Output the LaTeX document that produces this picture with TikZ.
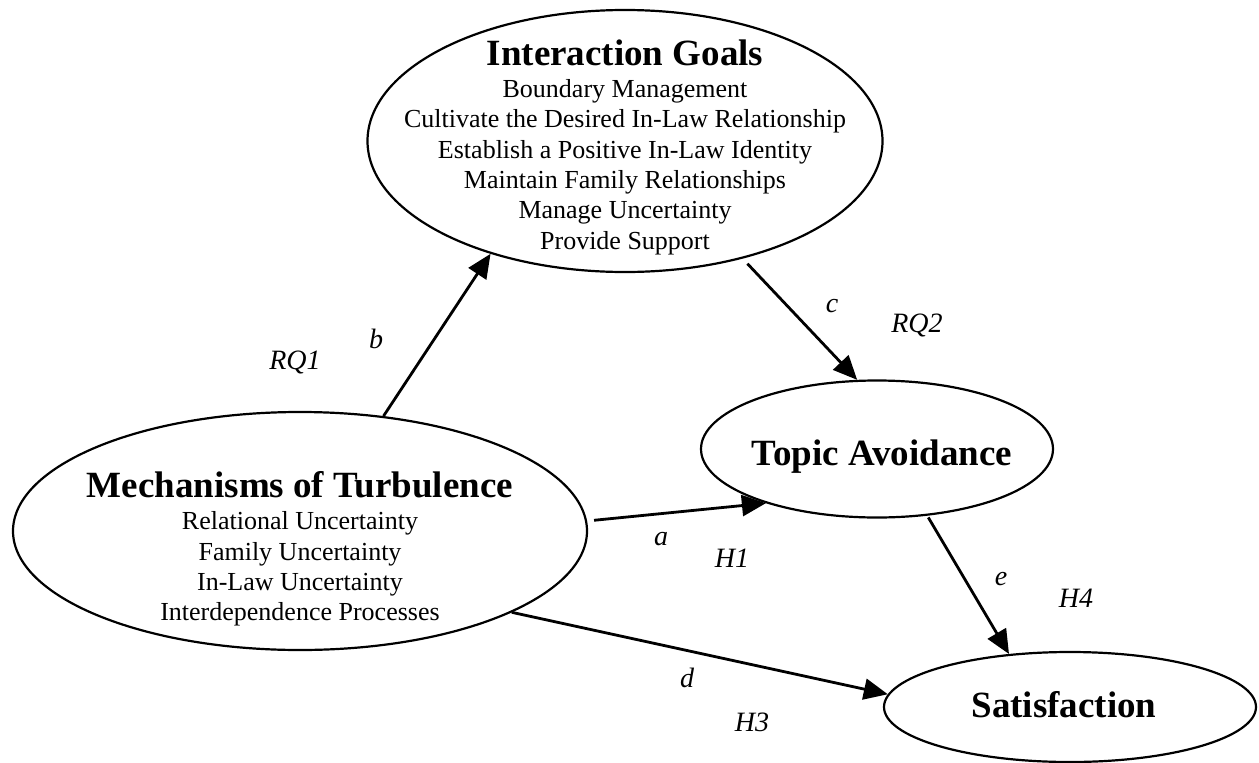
\documentclass[tikz,border=0pt]{standalone}
\usepackage{fontspec}
\setmainfont{Liberation Serif}
\usetikzlibrary{arrows.meta,shapes.geometric}
\begin{document}
\begin{tikzpicture}[x=1pt,y=-1pt,
  ell/.style={draw, ellipse, line width=2.2pt, inner sep=0pt},
  conn/.style={line width=2.8pt, -{Triangle[length=24pt,width=21pt]}},
  ttl/.style={font=\fontsize{37}{40}\selectfont\bfseries, inner sep=0pt, anchor=base},
  lst/.style={font=\fontsize{26}{30.4}\selectfont, align=center, inner sep=0pt},
  lbl/.style={font=\fontsize{28}{30}\selectfont\itshape, inner sep=0pt}
]
\useasboundingbox (0,0) rectangle (1259,763);

% ellipses
\node[ell, minimum width=515pt, minimum height=262pt] (ig) at (625,141) {};
\node[ell, minimum width=574pt, minimum height=238pt] (mt) at (300,531) {};
\node[ell, minimum width=352pt, minimum height=137pt] (ta) at (877,449) {};
\node[ell, minimum width=372pt, minimum height=110pt] (sat) at (1070,707) {};

% texts
\node[ttl] (igtitle) at (625,65) {Interaction Goals};
\node[lst] (iglist) at (625,167) {Boundary Management\\Cultivate the Desired In-Law Relationship\\Establish a Positive In-Law Identity\\Maintain Family Relationships\\Manage Uncertainty\\Provide Support};
\node[ttl] (mttitle) at (300,497) {Mechanisms of Turbulence};
\node[lst] (mtlist) at (300,569) {Relational Uncertainty\\Family Uncertainty\\In-Law Uncertainty\\Interdependence Processes};
\node[ttl] (tatitle) at (882,465) {Topic Avoidance};
\node[ttl] (sattitle) at (1064,717) {Satisfaction};

% connectors
\draw[conn] (mt.54.9) -- (ig.220);
\draw[conn, shorten <=7pt] (ig.315.7) -- (ta.106.6);
\draw[conn, shorten <=7pt] (mt.2.5) -- (ta.206.8);
\draw[conn] (mt.339.2) -- (sat.176.1);
\draw[conn, shorten <=2pt] (ta.307.5) -- (sat.139.4);

% labels
\node[lbl] (lrq1) at (295,362) {RQ1};
\node[lbl] (lb) at (376,339) {b};
\node[lbl] (lc) at (832,306) {c};
\node[lbl] (lrq2) at (917,325) {RQ2};
\node[lbl] (la) at (661,539) {a};
\node[lbl] (lh1) at (732,558) {H1};
\node[lbl] (le) at (1001,579) {e};
\node[lbl] (lh4) at (1076,598) {H4};
\node[lbl] (ld) at (687,678) {d};
\node[lbl] (lh3) at (752,722) {H3};
\end{tikzpicture}
\end{document}
